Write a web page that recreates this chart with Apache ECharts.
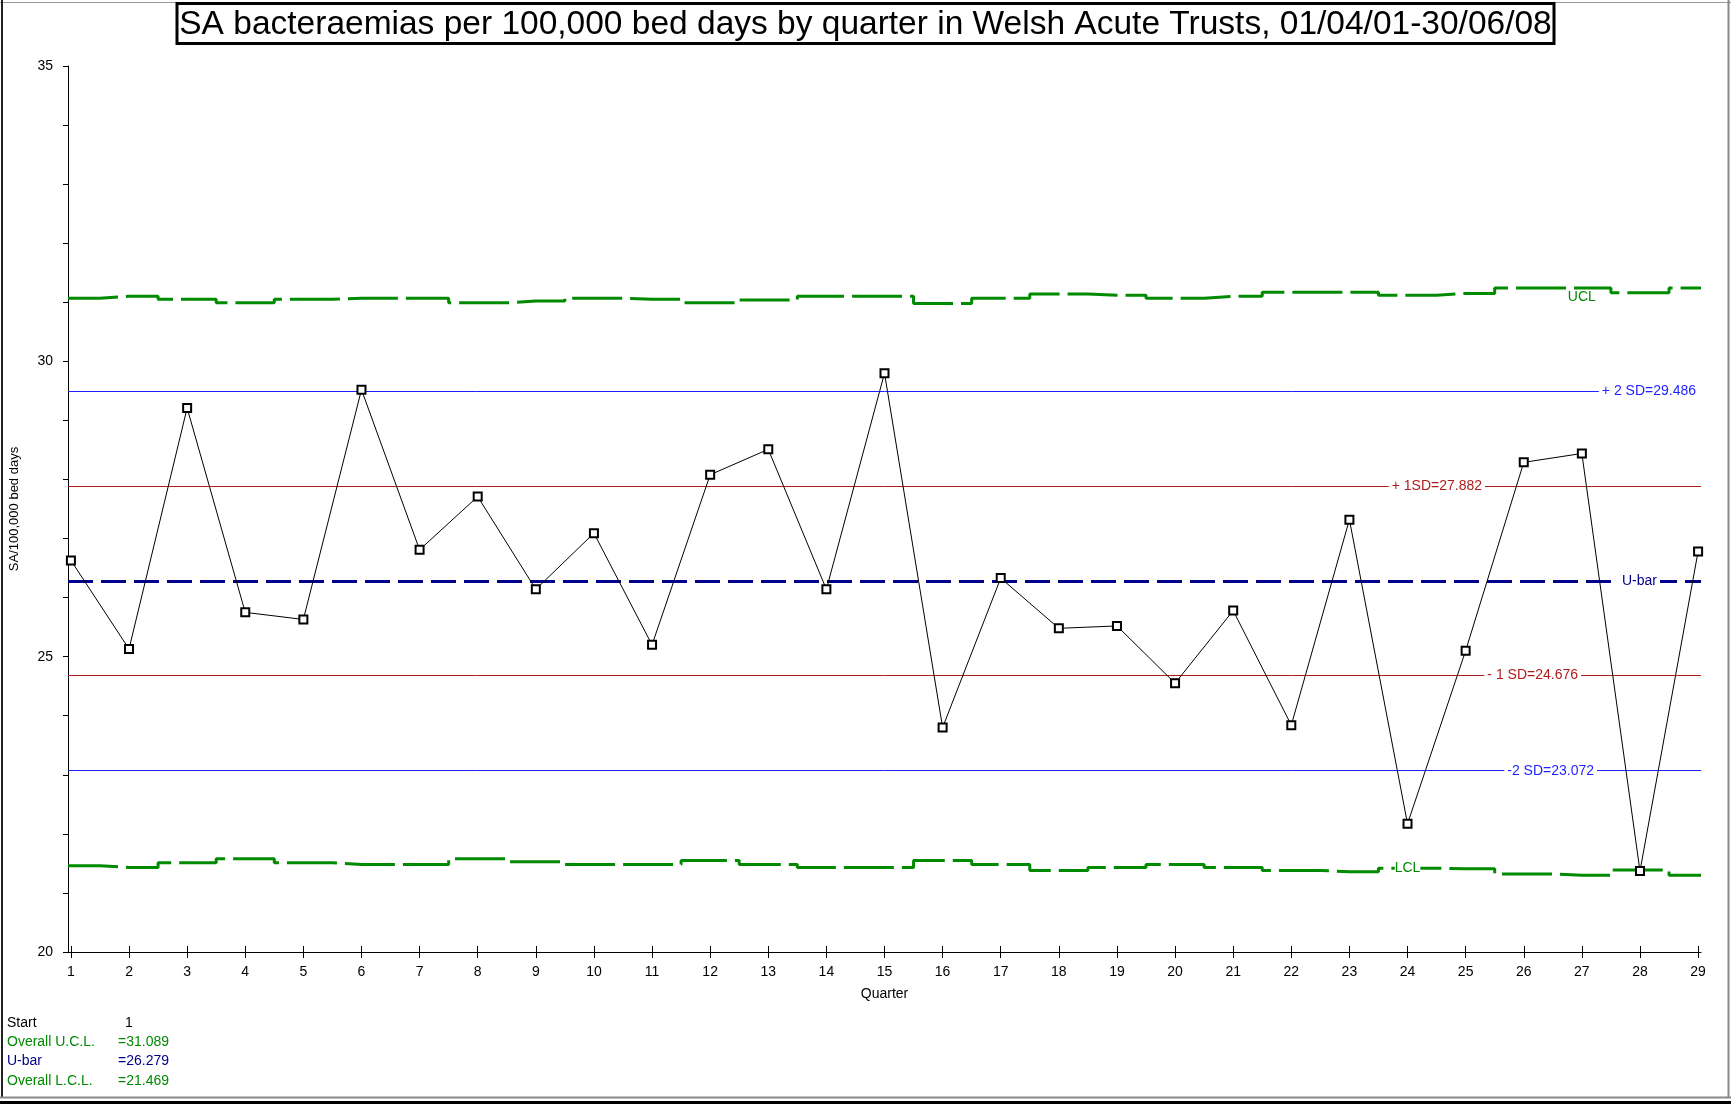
<!DOCTYPE html>
<html>
<head>
<meta charset="utf-8">
<title>SA bacteraemias per 100,000 bed days</title>
<script src="https://cdn.jsdelivr.net/npm/echarts@6/dist/echarts.min.js"></script>
<style>
  html, body { margin: 0; padding: 0; background: #fff; }
  #chart { width: 1731px; height: 1105px; }
</style>
</head>
<body>
<div id="chart"></div>
<script>
// data
var quarters = [1, 2, 3, 4, 5, 6, 7, 8, 9, 10, 11, 12, 13, 14, 15, 16, 17, 18, 19, 20, 21, 22, 23, 24, 25, 26, 27, 28, 29];
var rates = [26.63, 25.13, 29.21, 25.75, 25.63, 29.52, 26.81, 27.71, 26.14, 27.09, 25.20, 28.08, 28.51, 26.14, 29.80,
  23.80, 26.33, 25.48, 25.52, 24.55, 25.78, 23.84, 27.32, 22.17, 25.10, 28.29, 28.44, 21.37, 26.78];
var ucl = [31.07, 31.10, 31.05, 30.99, 31.05, 31.07, 31.07, 30.99, 31.02, 31.07, 31.05, 30.99, 31.04, 31.10, 31.10,
  30.98, 31.07, 31.14, 31.12, 31.07, 31.10, 31.17, 31.17, 31.12, 31.15, 31.24, 31.24, 31.16, 31.24];
var lcl = [21.46, 21.43, 21.51, 21.58, 21.51, 21.48, 21.48, 21.58, 21.53, 21.48, 21.48, 21.55, 21.48, 21.43, 21.43,
  21.55, 21.48, 21.38, 21.43, 21.48, 21.43, 21.38, 21.36, 21.42, 21.41, 21.32, 21.30, 21.39, 21.30];
var uBar = 26.279;
var sdValues = [29.486, 27.882, 24.676, 23.072];
var sdLabels = ['+ 2 SD=29.486', '+ 1SD=27.882', '- 1 SD=24.676', '-2 SD=23.072'];
var summaryLabels = ['Start', 'Overall U.C.L.', 'U-bar', 'Overall L.C.L.'];
var summaryValues = ['1', '=31.089', '=26.279', '=21.469'];

var FONT = '"Liberation Sans", Arial, sans-serif';
var GREEN = '#008a00';
var NAVY = '#00008c';
var BLUE = '#1f1fff';
var RED = '#b01c1c';
var xMin = 0.95, xMax = 29.05;

// label gap from the right end of each reference line
var sdColors = [BLUE, RED, RED, BLUE];
var sdGap = [0, 216, 120, 104];

function stepData(vals) {
  var d = [[xMin, vals[0]]];
  for (var i = 0; i < quarters.length; i++) d.push([quarters[i], vals[i]]);
  d.push([xMax, vals[vals.length - 1]]);
  return d;
}

var refLines = [];
for (var i = 0; i < sdValues.length; i++) {
  refLines.push({
    name: sdLabels[i],
    yAxis: sdValues[i],
    lineStyle: { color: sdColors[i], width: 1, type: 'solid' },
    label: { color: sdColors[i], distance: [sdGap[i], 0], padding: i === 0 ? [0, 5, 0, 3] : [0, 3] }
  });
}
refLines.push({
  name: 'U-bar',
  yAxis: uBar,
  lineStyle: { color: NAVY, width: 3, type: [25, 8] },
  label: { color: NAVY, distance: [41, 0] }
});

var chart = echarts.init(document.getElementById('chart'));

var graphics = [
  { type: 'line', shape: { x1: 0, y1: 2.5, x2: 1731, y2: 2.5 }, style: { stroke: '#999', lineWidth: 1 } },
  { type: 'line', shape: { x1: 2, y1: 0, x2: 2, y2: 1098 }, style: { stroke: '#222', lineWidth: 2 } },
  { type: 'line', shape: { x1: 1728.5, y1: 0, x2: 1728.5, y2: 1098 }, style: { stroke: '#888', lineWidth: 2 } },
  { type: 'line', shape: { x1: 0, y1: 1097.5, x2: 1731, y2: 1097.5 }, style: { stroke: '#888', lineWidth: 2 } },
  { type: 'line', shape: { x1: 0, y1: 1102.5, x2: 1731, y2: 1102.5 }, style: { stroke: '#000', lineWidth: 3 } }
];
var summaryColors = ['#000', GREEN, NAVY, GREEN];
for (var k = 0; k < summaryLabels.length; k++) {
  var yy = 1023 + k * 19.3;
  graphics.push({ type: 'text', x: 7, y: yy,
    style: { text: summaryLabels[k], fill: summaryColors[k], font: '14px ' + FONT, verticalAlign: 'middle' } });
  graphics.push({ type: 'text', x: k === 0 ? 125 : 118, y: yy,
    style: { text: summaryValues[k], fill: summaryColors[k], font: '14px ' + FONT, verticalAlign: 'middle' } });
}

var option = {
  animation: false,
  backgroundColor: '#fff',
  textStyle: { fontFamily: FONT },
  title: {
    text: 'SA bacteraemias per 100,000 bed days by quarter in Welsh Acute Trusts, 01/04/01-30/06/08',
    left: 'center',
    top: 3,
    padding: [4, 3, 2, 3],
    borderColor: '#000',
    borderWidth: 3,
    textStyle: { fontSize: 33.5, fontWeight: 'normal', color: '#000', fontFamily: FONT, lineHeight: 35 }
  },
  grid: { left: 62, right: 30, top: 66, bottom: 153 },
  xAxis: [{
    type: 'value',
    min: xMin,
    max: xMax,
    name: 'Quarter',
    nameLocation: 'middle',
    nameGap: 35,
    nameTextStyle: { fontSize: 14, color: '#000' },
    splitLine: { show: false },
    axisLine: { lineStyle: { color: '#000', width: 1 } },
    axisTick: { length: 6, customValues: quarters, lineStyle: { color: '#000' } },
    axisLabel: { customValues: quarters, margin: 13, fontSize: 14, color: '#000' }
  }, {
    type: 'value',
    position: 'bottom',
    min: xMin,
    max: xMax,
    splitLine: { show: false },
    axisLine: { show: false },
    axisTick: { inside: true, length: 6, customValues: quarters, lineStyle: { color: '#000' } },
    axisLabel: { show: false }
  }],
  yAxis: {
    type: 'value',
    min: 20,
    max: 35,
    interval: 1,
    name: 'SA/100,000 bed days',
    nameLocation: 'middle',
    nameGap: 47,
    nameTextStyle: { fontSize: 13, color: '#000' },
    splitLine: { show: false },
    axisLine: { show: true, lineStyle: { color: '#000', width: 1 } },
    axisTick: { length: 5, lineStyle: { color: '#000' } },
    axisLabel: {
      margin: 15, fontSize: 14, color: '#000',
      formatter: function(v) { return v % 5 === 0 ? String(v) : ''; }
    }
  },
  series: [{
    name: 'reference',
    type: 'line',
    data: [],
    z: 1,
    markLine: {
      silent: true,
      symbol: 'none',
      animation: false,
      label: {
        position: 'insideEnd',
        formatter: '{b}',
        fontSize: 14,
        backgroundColor: '#fff',
        padding: [0, 3]
      },
      data: refLines
    }
  }, {
    name: 'UCL',
    type: 'line',
    step: 'middle',
    data: stepData(ucl),
    showSymbol: false,
    z: 2,
    lineStyle: { color: GREEN, width: 3, type: [50, 8] },
    markPoint: {
      symbol: 'circle',
      symbolSize: 1,
      itemStyle: { color: 'rgba(0,0,0,0)' },
      label: { show: true, position: 'bottom', distance: 2, color: GREEN, fontSize: 14, formatter: 'UCL' },
      data: [{ coord: [quarters[26], ucl[26]] }]
    }
  }, {
    name: 'LCL',
    type: 'line',
    step: 'middle',
    data: stepData(lcl),
    showSymbol: false,
    z: 2,
    lineStyle: { color: GREEN, width: 3, type: [50, 8] },
    markPoint: {
      symbol: 'circle',
      symbolSize: 1,
      itemStyle: { color: 'rgba(0,0,0,0)' },
      label: { show: true, position: 'inside', color: GREEN, fontSize: 14, formatter: 'LCL', backgroundColor: '#fff' },
      data: [{ coord: [quarters[23], lcl[23]] }]
    }
  }, {
    name: 'SA rate',
    type: 'line',
    data: quarters.map(function(q, i) { return [q, rates[i]]; }),
    z: 5,
    symbol: 'emptyRect',
    symbolSize: 8,
    lineStyle: { color: '#000', width: 1 },
    itemStyle: { color: '#000', borderWidth: 1 }
  }],
  graphic: graphics
};

chart.setOption(option);
</script>
</body>
</html>
